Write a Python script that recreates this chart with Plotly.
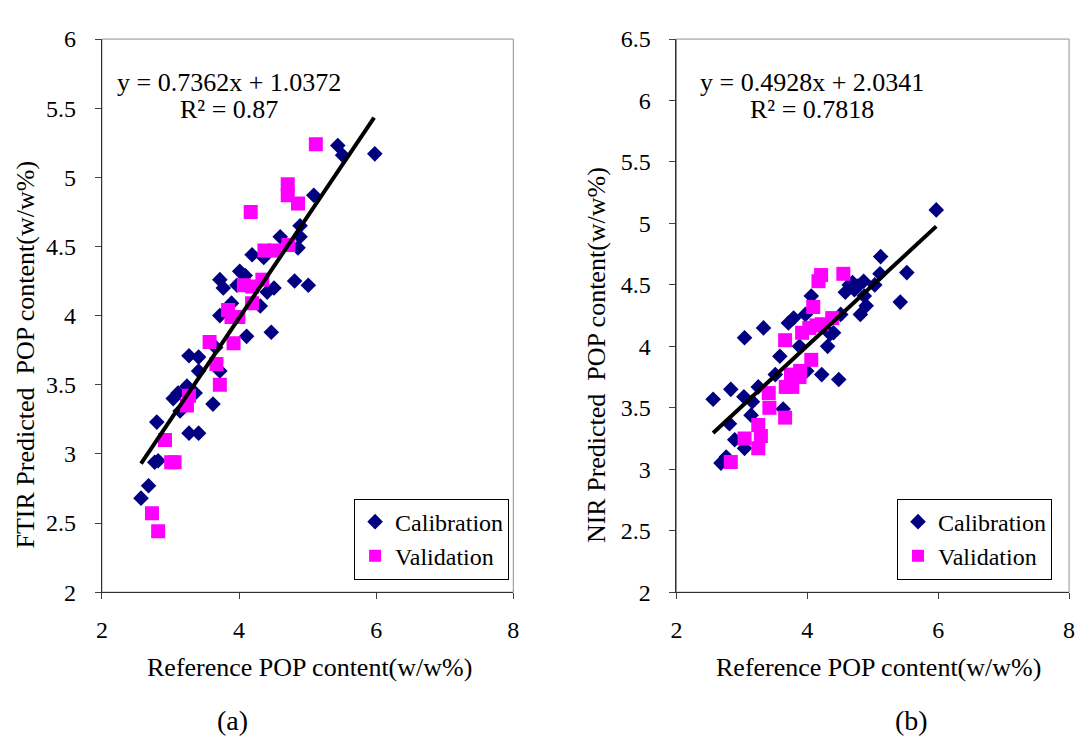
import plotly.graph_objects as go

# ---------------- data (a) FTIR ----------------
ftir_cal_x = [2.57, 2.68, 2.77, 2.82, 2.80, 3.04, 3.11, 3.14, 3.27, 3.41, 3.27, 3.41, 3.24, 3.36,
              3.41, 3.62, 3.72, 3.66, 3.72, 3.72, 3.77, 3.89, 3.97, 4.01, 4.09, 4.11, 4.19, 4.31,
              4.36, 4.47, 4.51, 4.41, 4.60, 4.81, 5.01, 4.86, 4.89, 4.89, 5.09, 5.44, 5.51, 5.98]
ftir_cal_y = [2.68, 2.77, 2.94, 2.95, 3.23, 3.40, 3.44, 3.31, 3.15, 3.15, 3.71, 3.70, 3.49, 3.44,
              3.60, 3.36, 3.60, 3.77, 4.00, 4.26, 4.20, 4.09, 4.22, 4.32, 4.29, 3.85, 4.44, 4.07,
              4.42, 3.88, 4.20, 4.17, 4.57, 4.25, 4.22, 4.49, 4.57, 4.65, 4.87, 5.23, 5.16, 5.17]
ftir_val_x = [2.73, 2.82, 2.92, 3.01, 3.06, 3.27, 3.24, 3.57, 3.67, 3.72, 3.84, 3.89, 3.99, 3.92,
              4.07, 4.19, 4.17, 4.19, 4.34, 4.37, 4.52, 4.72, 4.71, 4.71, 4.86, 5.12]
ftir_val_y = [2.57, 2.44, 3.10, 2.94, 2.94, 3.42, 3.35, 3.81, 3.65, 3.50, 4.04, 3.99, 3.99, 3.80,
              4.22, 4.21, 4.75, 4.09, 4.26, 4.47, 4.47, 4.51, 4.95, 4.87, 4.81, 5.24]
ftir_slope, ftir_intercept, ftir_r2 = 0.7362, 1.0372, "0.87"
ftir_line_x = [2.57, 5.97]

# ---------------- data (b) NIR ----------------
nir_cal_x = [2.56, 2.68, 2.76, 2.83, 2.81, 2.89, 3.04, 3.03, 3.04, 3.14, 3.16, 3.25, 3.33, 3.51,
             3.58, 3.63, 3.71, 3.79, 3.88, 3.99, 3.97, 4.06, 4.22, 4.31, 4.35, 4.40, 4.48, 4.51,
             4.58, 4.64, 4.69, 4.72, 4.77, 4.81, 4.86, 4.90, 4.87, 5.03, 5.11, 5.12, 5.42, 5.52, 5.97]
nir_cal_y = [3.57, 3.05, 3.10, 3.65, 3.37, 3.24, 4.07, 3.59, 3.17, 3.44, 3.55, 3.67, 4.15, 3.77,
             3.92, 3.49, 4.19, 4.23, 4.00, 3.80, 4.26, 4.41, 3.77, 4.00, 4.10, 4.11, 3.73, 4.26,
             4.44, 4.50, 4.52, 4.46, 4.49, 4.26, 4.53, 4.33, 4.41, 4.50, 4.59, 4.73, 4.36, 4.60, 5.11]
nir_val_x = [2.83, 3.04, 3.25, 3.25, 3.29, 3.41, 3.42, 3.66, 3.66, 3.67, 3.77, 3.75, 3.88, 3.89,
             3.92, 4.03, 4.06, 4.09, 4.17, 4.21, 4.14, 4.22, 4.38, 4.55]
nir_val_y = [3.06, 3.25, 3.36, 3.17, 3.27, 3.62, 3.50, 4.05, 3.42, 3.67, 3.67, 3.77, 3.75, 3.80,
             4.11, 4.15, 3.89, 4.32, 4.53, 4.58, 4.17, 4.18, 4.23, 4.59]
nir_slope, nir_intercept, nir_r2 = 0.4928, 2.0341, "0.7818"
nir_line_x = [2.56, 5.97]

x_ticks = [2, 4, 6, 8]
ftir_y_ticks = [2, 2.5, 3, 3.5, 4, 4.5, 5, 5.5, 6]
nir_y_ticks = [2, 2.5, 3, 3.5, 4, 4.5, 5, 5.5, 6, 6.5]

FONT = "Liberation Serif"
NAVY = "#000080"
MAG = "#FF00FF"

fig = go.Figure()

def add_panel(cx, cy, vx, vy, slope, intercept, lx, xa, ya, legend):
    fig.add_trace(go.Scatter(x=cx, y=cy, mode="markers", name="Calibration",
                             marker=dict(symbol="diamond", size=12, color=NAVY, line=dict(width=0)),
                             xaxis=xa, yaxis=ya, legend=legend))
    fig.add_trace(go.Scatter(x=vx, y=vy, mode="markers", name="Validation",
                             marker=dict(symbol="square", size=14, color=MAG, line=dict(width=0)),
                             xaxis=xa, yaxis=ya, legend=legend))
    ly = [slope * v + intercept for v in lx]
    fig.add_trace(go.Scatter(x=lx, y=ly, mode="lines", line=dict(color="black", width=4),
                             showlegend=False, xaxis=xa, yaxis=ya, hoverinfo="skip"))

add_panel(ftir_cal_x, ftir_cal_y, ftir_val_x, ftir_val_y, ftir_slope, ftir_intercept, ftir_line_x, "x", "y", "legend")
add_panel(nir_cal_x, nir_cal_y, nir_val_x, nir_val_y, nir_slope, nir_intercept, nir_line_x, "x2", "y2", "legend2")

W, H = 1082, 749
ydom = [1 - 600 / H, 1 - 27 / H]

axis_common = dict(showgrid=False, zeroline=False, ticks="outside", ticklen=6, tickwidth=1,
                   tickcolor="#404040", showline=True, linecolor="#303030", linewidth=1, mirror=False,
                   tickfont=dict(family=FONT, size=24, color="black"))

fig.update_layout(
    width=W, height=H, margin=dict(l=0, r=0, t=0, b=0),
    paper_bgcolor="white", plot_bgcolor="white",
    font=dict(family=FONT, size=26, color="black"),
    xaxis=dict(domain=[97 / W, 513 / W], range=[2, 8], tickvals=x_ticks, anchor="y",
               ticklabelstandoff=10, **axis_common),
    yaxis=dict(domain=ydom, range=[2, 6], tickvals=ftir_y_ticks, anchor="x",
               ticklabelstandoff=14, **axis_common),
    xaxis2=dict(domain=[678 / W, 1075 / W], range=[2, 8], tickvals=x_ticks, anchor="y2",
                ticklabelstandoff=10, **axis_common),
    yaxis2=dict(domain=ydom, range=[2, 6.5], tickvals=nir_y_ticks, anchor="x2",
                ticklabelstandoff=14, **axis_common),
    legend=dict(x=352 / W, y=1 - 503 / H, xanchor="left", yanchor="top", bgcolor="white",
                bordercolor="black", borderwidth=1, font=dict(family=FONT, size=24),
                itemsizing="constant", tracegroupgap=0, itemwidth=30),
    legend2=dict(x=901 / W, y=1 - 503 / H, xanchor="left", yanchor="top", bgcolor="white",
                 bordercolor="black", borderwidth=1, font=dict(family=FONT, size=24),
                 itemsizing="constant", tracegroupgap=0, itemwidth=30),
    showlegend=True,
)

# grey plot-area frames
for xr, yr in (("x domain", "y domain"), ("x2 domain", "y2 domain")):
    fig.add_shape(type="rect", xref=xr, yref=yr, x0=0, x1=1, y0=0, y1=1,
                  line=dict(color="#909090", width=1), layer="below")

def txt(x, y, s, size=26, angle=0):
    fig.add_annotation(x=x / W, y=1 - y / H, xref="paper", yref="paper", text=s, showarrow=False,
                       font=dict(family=FONT, size=size, color="black"), textangle=angle,
                       xanchor="center", yanchor="middle")

# equations
txt(225, 72, f"y = {ftir_slope}x + {ftir_intercept}")
txt(225, 100, f"R² = {ftir_r2}")
txt(815, 72, f"y = {nir_slope}x + {nir_intercept}")
txt(815, 100, f"R² = {nir_r2}")
# axis titles
txt(307, 678, "Reference POP content(w/w%)")
txt(882, 678, "Reference POP content(w/w%)")
txt(20, 354, "FTIR Predicted  POP content(w/w%)", angle=-90)
txt(597, 354, "NIR Predicted  POP content(w/w%)", angle=-90)
# panel labels
txt(229, 733, "(a)", size=28)
txt(916, 733, "(b)", size=28)

fig.write_html("out.html")
